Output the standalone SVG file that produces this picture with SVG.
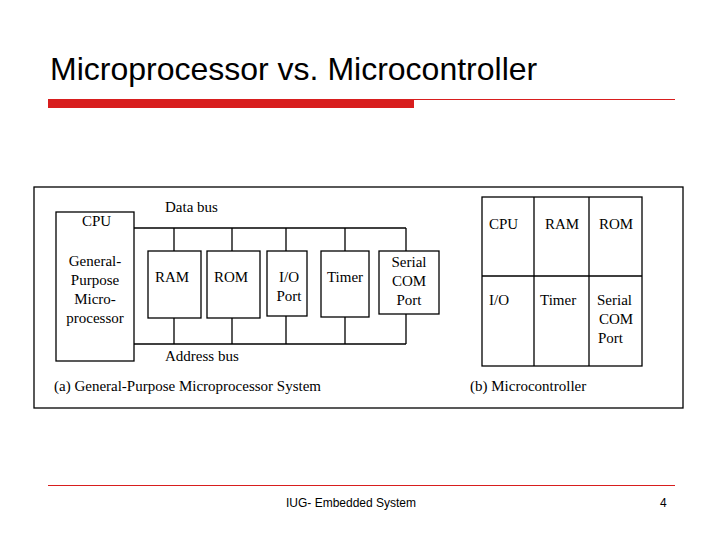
<svg xmlns="http://www.w3.org/2000/svg" width="720" height="540" viewBox="0 0 720 540">
<style>
.b{fill:#fff;stroke:#000;stroke-width:1.3}
.l{stroke:#000;stroke-width:1.3;fill:none}
.t{font-family:"Liberation Serif",serif;font-size:15px;fill:#000}
.m{text-anchor:middle}
</style>
<rect width="720" height="540" fill="#fff"/>
<text x="50" y="80" font-family="Liberation Sans,sans-serif" font-size="32" fill="#000">Microprocessor vs. Microcontroller</text>
<rect x="48" y="99" width="366" height="9" fill="#d81e1e"/>
<line x1="414" y1="99.5" x2="675" y2="99.5" stroke="#d81e1e" stroke-width="1"/>
<rect x="34" y="187" width="649" height="221" class="b"/>
<g id="connectors">
<polyline class="l" points="134,228 406,228"/>
<polyline class="l" points="134,344 406,344"/>
<path class="l" d="M174,228V251M232,228V251M286,228V251M345,228V251M406,228V251M174,318V344M232,318V344M286,316V344M345,317V344M406,314V344"/>
</g>
<g id="cpu"><rect class="b" x="56" y="212" width="78" height="149"/>
<text class="t" x="82" y="226">CPU</text>
<text class="t m" x="95" y="266">General-</text><text class="t m" x="95" y="285">Purpose</text><text class="t m" x="95" y="304">Micro-</text><text class="t m" x="95" y="323">processor</text></g>
<g id="ram"><rect class="b" x="148" y="251" width="53" height="67"/><text class="t" x="155" y="282">RAM</text></g>
<g id="rom"><rect class="b" x="207" y="251" width="53" height="67"/><text class="t" x="214" y="282">ROM</text></g>
<g id="io"><rect class="b" x="267" y="251" width="40" height="65"/><text class="t m" x="289" y="282">I/O</text><text class="t m" x="289" y="301">Port</text></g>
<g id="timer"><rect class="b" x="321" y="251" width="48" height="66"/><text class="t m" x="345" y="282">Timer</text></g>
<g id="serial"><rect class="b" x="379" y="251" width="60" height="63"/><text class="t m" x="409" y="267">Serial</text><text class="t m" x="409" y="286">COM</text><text class="t m" x="409" y="305">Port</text></g>
<text class="t" x="165" y="212">Data bus</text>
<text class="t" x="165" y="361">Address bus</text>
<text class="t" x="54" y="391">(a) General-Purpose Microprocessor System</text>
<g id="mc">
<rect class="b" x="482" y="197" width="160" height="169"/>
<path class="l" d="M534,197V366M589,197V366M482,276H642"/>
<text class="t" x="489" y="229">CPU</text><text class="t" x="545" y="229">RAM</text><text class="t" x="599" y="229">ROM</text>
<text class="t" x="489" y="305">I/O</text><text class="t" x="540" y="305">Timer</text>
<text class="t" x="597" y="305">Serial</text><text class="t" x="599" y="324">COM</text><text class="t" x="598" y="343">Port</text>
</g>
<text class="t" x="470" y="391">(b) Microcontroller</text>
<line x1="48" y1="485.5" x2="675" y2="485.5" stroke="#d81e1e" stroke-width="1"/>
<text x="351" y="507" font-family="Liberation Sans,sans-serif" font-size="12" text-anchor="middle">IUG- Embedded System</text>
<text x="660" y="507" font-family="Liberation Sans,sans-serif" font-size="12">4</text>
</svg>
